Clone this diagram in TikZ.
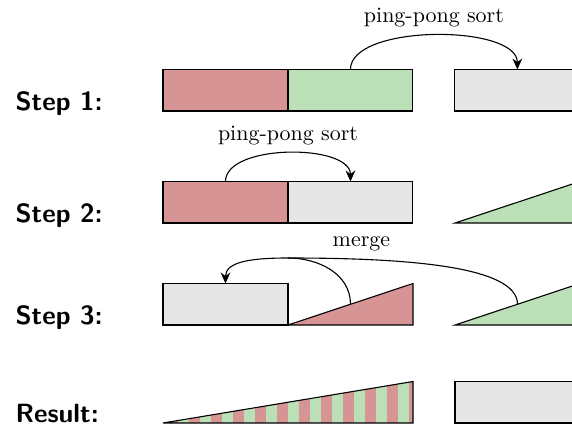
\documentclass[tikz,border=0pt]{standalone}
\usepackage{xcolor}
\usepackage{tikz}
\usetikzlibrary{arrows.meta,positioning}
\definecolor{partred}{RGB}{214,148,148}
\definecolor{partgreen}{RGB}{187,224,184}
\definecolor{partgray}{RGB}{230,230,230}

\begin{document}
\begin{tikzpicture}[
    x=0.016cm, y=0.016cm, line width=0.5pt,
    box/.style={rectangle, draw, minimum width=2cm, minimum height=0.664cm, inner sep=0pt, outer sep=0pt},
    steplabel/.style={anchor=base west, inner sep=0pt, font=\sffamily\bfseries\large},
    arrow/.style={->, >={Stealth[length=5pt, width=4.4pt, inset=1.6pt]}}
]
    \useasboundingbox (0,0) rectangle (572,426);
    \clip (0,0) rectangle (572,426);

    \node[steplabel] (n1) at (15,315) {Step 1:};
    \node[steplabel] (n2) at (15,203) {Step 2:};
    \node[steplabel] (n3) at (15,101) {Step 3:};
    \node[steplabel] (n4) at (15,4) {Result:};

    % step 1
    \node[box, fill=partred, anchor=south west] (s1a) at (163,315) {};
    \node[box, fill=partgreen, right=0pt of s1a] (s1b) {};
    \node[box, fill=partgray, right=0.672cm of s1b] (s1c) {};
    \draw[arrow] (s1b.north) to[out=90, in=90, looseness=0.7] node[above] (l1) {ping-pong sort} (s1c.north);

    % step 2
    \node[box, fill=partred, anchor=south west] (s2a) at (163,203) {};
    \node[box, fill=partgray, right=0pt of s2a] (s2b) {};
    \draw[fill=partgreen] (455,203) -- (580,203) -- (580,244.5) -- cycle;
    \draw[arrow] (s2a.north) to[out=90, in=90, looseness=0.78] node[above] (l2) {ping-pong sort} (s2b.north);

    % step 3
    \node[box, fill=partgray, anchor=south west] (s3a) at (163,101) {};
    \draw[fill=partred] (s3a.south east) -- (413,101) -- (413,142.5) -- cycle;
    \draw[fill=partgreen] (455,101) -- (580,101) -- (580,142.5) -- cycle;
    \coordinate (t3a) at (350.5,121.75);
    \coordinate (t3b) at (517.5,121.75);
    \coordinate (m3) at (288,168);
    \draw (t3a) to[out=90, in=0] (m3);
    \draw[arrow] (t3b) .. controls (517.5,161) and (400,168) .. (m3) node[above, pos=0.78] (l3) {merge}
        .. controls (250,168) and (225.5,164) .. (s3a.north);

    % result
    \begin{scope}
        \clip (163,3) -- (413,3) -- (413,44.5) -- cycle;
        \fill[partgreen] (163,3) rectangle (413,44.5);
        \foreach \i in {0,...,11}
            \fill[partred] ({166.5+22.05*\i},3) rectangle ++(11,41.5);
    \end{scope}
    \draw (163,3) -- (413,3) -- (413,44.5) -- cycle;
    \node[box, fill=partgray, anchor=south west] (r4) at (455,3) {};
\end{tikzpicture}
\end{document}
